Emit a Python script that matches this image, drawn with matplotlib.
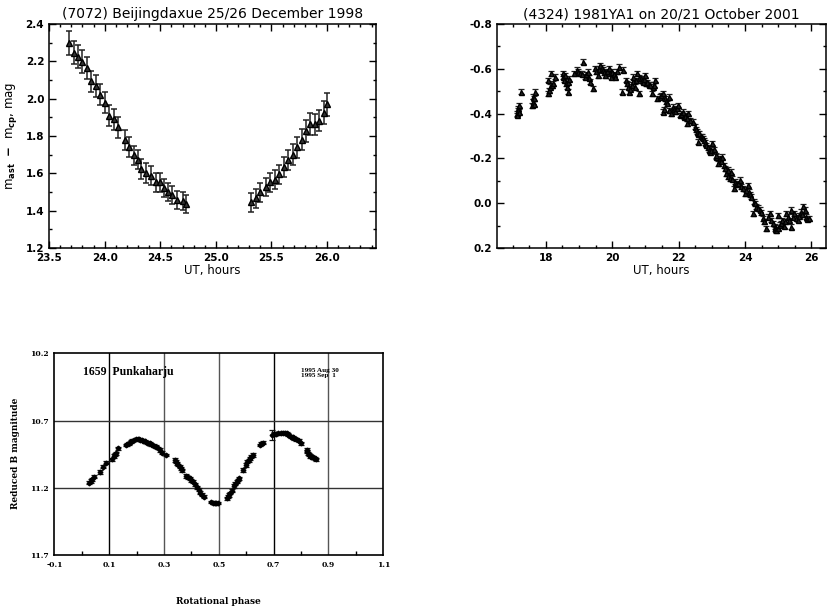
"""
Three asteroid lightcurves: 7072 Beijingdaxue, 4324 1981YA1 and 1659 Punkaharju
"""
import matplotlib
matplotlib.use('Agg')
import matplotlib.pyplot as plt
import numpy as np
from matplotlib.ticker import MultipleLocator, FormatStrFormatter, FixedLocator

## Data

# (7072) Beijingdaxue, 25/26 December 1998 : UT (hours), m_ast - m_cp (mag), error
ut_a1 = [23.68, 23.72, 23.76, 23.80, 23.84, 23.88, 23.92, 23.96, 24.00, 24.04,
         24.08, 24.12, 24.18, 24.22, 24.26, 24.30, 24.33, 24.37, 24.42, 24.46,
         24.50, 24.53, 24.57, 24.61, 24.65, 24.70, 24.73]
mag_a1 = [2.297, 2.247, 2.225, 2.199, 2.163, 2.093, 2.068, 2.022, 1.979, 1.908,
          1.890, 1.846, 1.780, 1.740, 1.696, 1.673, 1.623, 1.601, 1.587, 1.552,
          1.552, 1.521, 1.500, 1.482, 1.459, 1.452, 1.437]
err_a1 = [0.064, 0.062, 0.062, 0.062, 0.060, 0.058, 0.058, 0.058, 0.058, 0.056,
          0.056, 0.056, 0.054, 0.054, 0.052, 0.052, 0.052, 0.052, 0.050, 0.050,
          0.050, 0.050, 0.048, 0.048, 0.048, 0.048, 0.048]
ut_a2 = [25.32, 25.36, 25.40, 25.45, 25.49, 25.53, 25.57, 25.61, 25.65, 25.69,
         25.73, 25.77, 25.81, 25.85, 25.89, 25.93, 25.97, 26.00]
mag_a2 = [1.445, 1.466, 1.498, 1.527, 1.552, 1.566, 1.594, 1.633, 1.673, 1.701,
          1.740, 1.780, 1.826, 1.865, 1.862, 1.883, 1.926, 1.969]
err_a2 = [0.050, 0.050, 0.050, 0.050, 0.050, 0.050, 0.050, 0.052, 0.054, 0.054,
          0.056, 0.056, 0.058, 0.058, 0.058, 0.058, 0.060, 0.062]

# (4324) 1981YA1, 20/21 October 2001 : UT (hours), relative magnitude
ut_b = [17.12, 17.14, 17.16, 17.17, 17.18, 17.20, 17.26, 17.59, 17.60, 17.61,
        17.63, 17.64, 17.66, 18.07, 18.08, 18.10, 18.14, 18.16, 18.20, 18.23,
        18.29, 18.51, 18.53, 18.56, 18.59, 18.62, 18.64, 18.66, 18.68, 18.70,
        18.84, 18.94, 18.98, 19.04, 19.08, 19.11, 19.19, 19.22, 19.27, 19.30,
        19.34, 19.41, 19.49, 19.52, 19.57, 19.60, 19.64, 19.68, 19.71, 19.75,
        19.79, 19.84, 19.89, 19.93, 19.97, 19.99, 20.04, 20.09, 20.14, 20.19,
        20.29, 20.32, 20.42, 20.46, 20.49, 20.52, 20.55, 20.59, 20.62, 20.64,
        20.69, 20.72, 20.76, 20.80, 20.82, 20.86, 20.89, 20.92, 20.96, 20.99,
        21.02, 21.06, 21.10, 21.14, 21.19, 21.22, 21.26, 21.29, 21.34, 21.44,
        21.48, 21.52, 21.54, 21.57, 21.59, 21.62, 21.66, 21.70, 21.72, 21.76,
        21.82, 21.86, 21.90, 21.94, 21.99, 22.04, 22.08, 22.12, 22.16, 22.20,
        22.24, 22.26, 22.29, 22.34, 22.44, 22.49, 22.52, 22.54, 22.57, 22.59,
        22.62, 22.66, 22.69, 22.72, 22.76, 22.80, 22.84, 22.88, 22.92, 22.96,
        22.99, 23.02, 23.08, 23.12, 23.14, 23.19, 23.24, 23.28, 23.32, 23.36,
        23.39, 23.44, 23.48, 23.50, 23.54, 23.59, 23.62, 23.66, 23.69, 23.74,
        23.79, 23.84, 23.88, 23.94, 23.99, 24.03, 24.09, 24.12, 24.15, 24.19,
        24.24, 24.26, 24.30, 24.34, 24.38, 24.44, 24.48, 24.54, 24.58, 24.64,
        24.68, 24.74, 24.79, 24.84, 24.89, 24.90, 24.94, 24.99, 25.00, 25.04,
        25.08, 25.12, 25.16, 25.20, 25.24, 25.30, 25.34, 25.39, 25.39, 25.44,
        25.49, 25.54, 25.59, 25.64, 25.69, 25.72, 25.76, 25.80, 25.84, 25.88,
        25.92]
mag_b = [-0.402, -0.394, -0.424, -0.415, -0.409, -0.438, -0.498, -0.438, -0.475, -0.453,
         -0.468, -0.445, -0.498, -0.550, -0.490, -0.505, -0.520, -0.580, -0.527, -0.535,
         -0.565, -0.580, -0.565, -0.550, -0.572, -0.535, -0.520, -0.498, -0.542, -0.555,
         -0.580, -0.595, -0.588, -0.580, -0.578, -0.632, -0.565, -0.575, -0.587, -0.560,
         -0.542, -0.513, -0.602, -0.590, -0.572, -0.600, -0.617, -0.605, -0.595, -0.585,
         -0.572, -0.590, -0.602, -0.580, -0.565, -0.587, -0.575, -0.565, -0.590, -0.609,
         -0.498, -0.595, -0.550, -0.535, -0.520, -0.498, -0.510, -0.528, -0.545, -0.565,
         -0.520, -0.548, -0.580, -0.560, -0.490, -0.558, -0.548, -0.542, -0.555, -0.572,
         -0.535, -0.540, -0.530, -0.528, -0.490, -0.520, -0.530, -0.550, -0.468, -0.475,
         -0.482, -0.490, -0.409, -0.420, -0.468, -0.455, -0.446, -0.415, -0.475, -0.401,
         -0.431, -0.420, -0.410, -0.424, -0.438, -0.394, -0.400, -0.409, -0.386, -0.390,
         -0.379, -0.357, -0.401, -0.370, -0.364, -0.342, -0.330, -0.319, -0.310, -0.275,
         -0.312, -0.300, -0.297, -0.290, -0.282, -0.270, -0.260, -0.250, -0.238, -0.230,
         -0.238, -0.267, -0.240, -0.208, -0.215, -0.178, -0.200, -0.190, -0.208, -0.170,
         -0.156, -0.133, -0.120, -0.150, -0.111, -0.141, -0.110, -0.066, -0.096, -0.085,
         -0.089, -0.104, -0.075, -0.066, -0.044, -0.060, -0.081, -0.051, -0.040, -0.029,
         0.045, -0.007, 0.000, 0.016, 0.020, 0.030, 0.040, 0.067, 0.080, 0.112,
         0.060, 0.045, 0.075, 0.090, 0.105, 0.115, 0.120, 0.053, 0.110, 0.097,
         0.090, 0.075, 0.100, 0.080, 0.045, 0.060, 0.075, 0.030, 0.105, 0.060,
         0.045, 0.065, 0.075, 0.055, 0.038, 0.050, 0.013, 0.030, 0.060, 0.070,
         0.067]
err_b = 0.011                       # every point in this run has about the same error

# 1659 Punkaharju, 1995 Aug 30 / Sep 1 : rotational phase, reduced B magnitude, error
phase_c = [0.028, 0.032, 0.036, 0.044, 0.068, 0.077, 0.087, 0.111, 0.118, 0.122,
           0.126, 0.133, 0.162, 0.166, 0.172, 0.181, 0.185, 0.189, 0.199, 0.204,
           0.209, 0.214, 0.219, 0.225, 0.230, 0.238, 0.243, 0.248, 0.253, 0.258,
           0.265, 0.272, 0.278, 0.285, 0.294, 0.309, 0.339, 0.343, 0.348, 0.352,
           0.357, 0.362, 0.367, 0.382, 0.388, 0.394, 0.400, 0.406, 0.412, 0.420,
           0.427, 0.433, 0.439, 0.445, 0.473, 0.479, 0.485, 0.491, 0.497, 0.529,
           0.533, 0.538, 0.542, 0.547, 0.555, 0.560, 0.565, 0.570, 0.575, 0.589,
           0.599, 0.604, 0.609, 0.614, 0.618, 0.623, 0.650, 0.655, 0.660, 0.693,
           0.701, 0.709, 0.717, 0.725, 0.733, 0.740, 0.747, 0.753, 0.759, 0.764,
           0.769, 0.775, 0.781, 0.787, 0.793, 0.798, 0.820, 0.823, 0.826, 0.829,
           0.832, 0.838, 0.845, 0.850, 0.854]
mag_c = [11.163, 11.150, 11.138, 11.118, 11.081, 11.044, 11.014, 10.989, 10.964, 10.955,
         10.944, 10.907, 10.882, 10.877, 10.870, 10.857, 10.850, 10.845, 10.837, 10.838,
         10.840, 10.842, 10.845, 10.850, 10.855, 10.865, 10.867, 10.870, 10.876, 10.882,
         10.888, 10.895, 10.905, 10.919, 10.939, 10.957, 10.994, 11.006, 11.019, 11.030,
         11.044, 11.055, 11.069, 11.113, 11.122, 11.131, 11.144, 11.156, 11.175, 11.197,
         11.215, 11.237, 11.252, 11.267, 11.304, 11.310, 11.316, 11.317, 11.316, 11.279,
         11.267, 11.254, 11.238, 11.222, 11.187, 11.170, 11.155, 11.142, 11.130, 11.068,
         11.031, 11.007, 10.995, 10.982, 10.970, 10.957, 10.882, 10.873, 10.865, 10.808,
         10.800, 10.797, 10.795, 10.793, 10.791, 10.792, 10.795, 10.805, 10.815, 10.820,
         10.825, 10.832, 10.840, 10.845, 10.850, 10.870, 10.919, 10.930, 10.944, 10.955,
         10.964, 10.968, 10.974, 10.980, 10.989]
err_c = [0.012, 0.012, 0.012, 0.012, 0.015, 0.012, 0.012, 0.012, 0.012, 0.010,
         0.012, 0.012, 0.010, 0.010, 0.010, 0.010, 0.010, 0.010, 0.008, 0.008,
         0.008, 0.008, 0.008, 0.010, 0.010, 0.010, 0.010, 0.010, 0.010, 0.010,
         0.010, 0.012, 0.010, 0.012, 0.012, 0.010, 0.015, 0.010, 0.012, 0.010,
         0.012, 0.010, 0.012, 0.012, 0.010, 0.012, 0.010, 0.012, 0.010, 0.012,
         0.010, 0.012, 0.010, 0.012, 0.008, 0.008, 0.008, 0.008, 0.008, 0.012,
         0.010, 0.012, 0.010, 0.012, 0.012, 0.010, 0.012, 0.010, 0.012, 0.015,
         0.012, 0.012, 0.010, 0.012, 0.010, 0.012, 0.010, 0.010, 0.010, 0.035,
         0.015, 0.010, 0.010, 0.010, 0.010, 0.010, 0.010, 0.010, 0.010, 0.010,
         0.010, 0.010, 0.010, 0.010, 0.010, 0.012, 0.012, 0.010, 0.012, 0.010,
         0.012, 0.010, 0.012, 0.010, 0.012]

## Plotting

plt.rcParams['font.family'] = 'DejaVu Sans'
plt.rcParams['font.weight'] = 'bold'          # tick labels and axis labels come out heavy
plt.rcParams['mathtext.default'] = 'bf'

FIG = plt.figure(figsize=(8.27, 6.07), dpi=100)
FIG.patch.set_facecolor('white')


def idl_axes(ax):
    # IDL look: inward ticks on all four sides, heavier frame
    ax.tick_params(which='both', direction='in', top=True, right=True, width=1.0,
                   labelsize=7.5)
    ax.tick_params(which='major', length=5)
    ax.tick_params(which='minor', length=2.5)
    for sp in ax.spines.values():
        sp.set_linewidth(1.1)


# -- (7072) Beijingdaxue
AX1 = FIG.add_axes([0.0593, 0.5914, 0.3954, 0.3690])
for t, m, e in [(ut_a1, mag_a1, err_a1), (ut_a2, mag_a2, err_a2)]:
    AX1.errorbar(t, m, yerr=e, fmt='^', color='black', ms=4.5, mfc='#333333',
                 mec='black', ecolor='#222222', elinewidth=1.1, capsize=2.5, capthick=1.1)
AX1.set_xlim(23.5, 26.44)
AX1.set_ylim(1.2, 2.4)
AX1.xaxis.set_major_locator(MultipleLocator(0.5))
AX1.xaxis.set_minor_locator(MultipleLocator(0.1))
AX1.yaxis.set_major_locator(MultipleLocator(0.2))
AX1.yaxis.set_minor_locator(MultipleLocator(0.1))
AX1.xaxis.set_major_formatter(FormatStrFormatter('%.1f'))
AX1.yaxis.set_major_formatter(FormatStrFormatter('%.1f'))
idl_axes(AX1)
AX1.set_title('(7072) Beijingdaxue 25/26 December 1998', fontsize=10,
              fontweight='normal', pad=4)
AX1.set_xlabel('UT, hours', fontsize=8.5, labelpad=1)
AX1.set_ylabel(r'm$_{\rm ast}$  $-$  m$_{\rm cp}$, mag', fontsize=8.5, labelpad=5)

# -- (4324) 1981YA1
AX2 = FIG.add_axes([0.6010, 0.5914, 0.3978, 0.3690])
AX2.errorbar(ut_b, mag_b, yerr=err_b, fmt='^', color='black', ms=3.6, mfc='#222222',
             mec='black', ecolor='#222222', elinewidth=0.9, capsize=2.0, capthick=0.9)
AX2.set_xlim(16.53, 26.44)
AX2.set_ylim(0.2, -0.8)              # brighter upwards
AX2.xaxis.set_major_locator(MultipleLocator(2))
AX2.xaxis.set_minor_locator(MultipleLocator(0.5))
AX2.yaxis.set_major_locator(MultipleLocator(0.2))
AX2.yaxis.set_minor_locator(MultipleLocator(0.1))
AX2.yaxis.set_major_formatter(FormatStrFormatter('%.1f'))
idl_axes(AX2)
AX2.set_title('(4324) 1981YA1 on 20/21 October 2001', fontsize=10,
              fontweight='normal', pad=4)
AX2.set_xlabel('UT, hours', fontsize=8.5, labelpad=1)

# -- 1659 Punkaharju (older style plot with a grid)
AX3 = FIG.add_axes([0.0657, 0.0857, 0.3978, 0.3323])
AX3.errorbar(phase_c, mag_c, yerr=err_c, fmt='D', color='black', ms=2.4,
             ecolor='#111111', elinewidth=0.8, capsize=2.4, capthick=0.9)
AX3.set_xlim(-0.1, 1.1)
AX3.set_ylim(11.7, 10.2)
AX3.set_xticks([-0.1, 0.1, 0.3, 0.5, 0.7, 0.9, 1.1])
AX3.set_xticklabels(['-0.1', '0.1', '0.3', '0.5', '0.7', '0.9', '1.1'],
                    family='DejaVu Serif', fontweight='bold')
AX3.xaxis.set_minor_locator(FixedLocator([0.0, 0.2, 0.4, 0.6, 0.8, 1.0]))
AX3.set_yticks([10.2, 10.7, 11.2, 11.7])
AX3.set_yticklabels(['10.2', '10.7', '11.2', '11.7'],
                    family='DejaVu Serif', fontweight='bold')
AX3.tick_params(which='major', length=0, labelsize=5.5)
AX3.tick_params(axis='x', which='major', pad=4)
AX3.tick_params(axis='y', which='major', pad=4)
AX3.tick_params(which='minor', direction='in', length=3, width=1.0)
for sp in AX3.spines.values():
    sp.set_linewidth(1.2)
# grid lines
for xg, col in zip([0.1, 0.3, 0.5, 0.7, 0.9], ['black', '#555555', '#555555', 'black', '#555555']):
    AX3.axvline(xg, color=col, lw=1.0, zorder=0)
for yg in [10.7, 11.2]:
    AX3.axhline(yg, color='#333333', lw=1.0, zorder=0)
AX3.text(0.006, 10.36, '1659  Punkaharju', fontsize=8.5, fontweight='bold',
         family='Liberation Serif')
AX3.text(0.80, 10.375, '1995 Aug 30\n1995 Sep  1', fontsize=5.2, fontweight='bold',
         family='Liberation Serif', linespacing=1.0)
# axis titles sit well away from this frame
FIG.text(218 / 827, 1 - 601 / 607, 'Rotational phase', fontsize=6.5, fontweight='bold',
         family='DejaVu Serif', ha='center', va='center')
FIG.text(15 / 827, 1 - 453 / 607, 'Reduced B magnitude', fontsize=6.5, fontweight='bold',
         family='DejaVu Serif', ha='center', va='center', rotation=90)

## Saving the file
plt.savefig('out.png', dpi=100, facecolor='white')
